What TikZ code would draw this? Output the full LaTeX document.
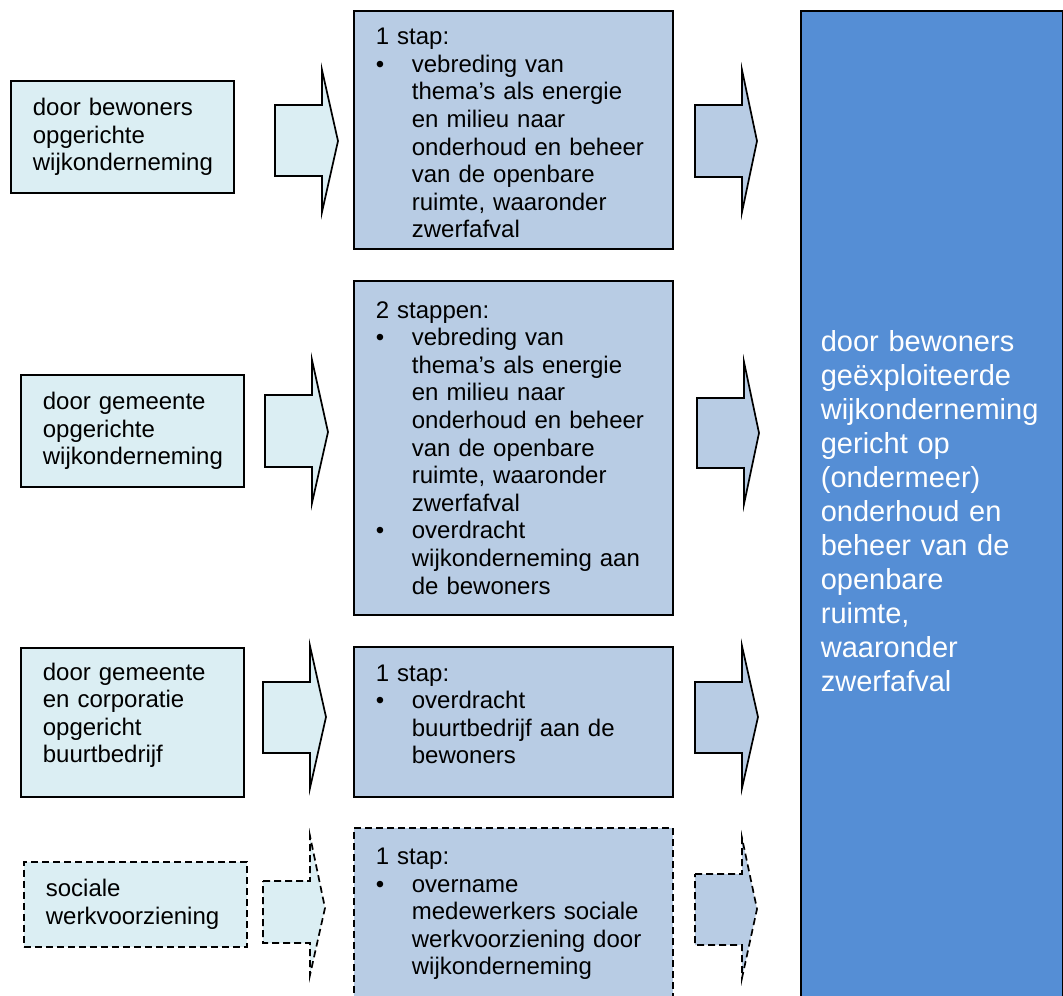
\documentclass[tikz,border=0pt]{standalone}
\usepackage{fontspec}
\setmainfont{Liberation Sans}
\usepackage{tikz}

\definecolor{lichtblauw}{HTML}{DBEEF3}
\definecolor{grijsblauw}{HTML}{B8CCE4}
\definecolor{doelblauw}{HTML}{558ED5}

\newcommand{\bol}{\makebox[36pt][l]{\textbullet}}
\newcommand{\insp}{\hspace*{36pt}}

\tikzset{
  kader/.style={draw=black, line width=1.7pt, anchor=north west, align=left,
    inner xsep=22pt, inner ysep=0pt,
    font=\fontsize{24pt}{27.6pt}\selectfont},
  bron/.style={kader, fill=lichtblauw, text width=179pt},
  stapbox/.style={kader, fill=grijsblauw, text width=275pt},
  pijl/.style={draw=black, line width=1.7pt, line join=miter},
  streep/.style={dash pattern=on 7pt off 4pt}
}

\begin{document}
\begin{tikzpicture}[x=1pt, y=-1pt]
    \useasboundingbox (0,0) rectangle (1063,996);

    % beginsituatie
    \node[bron, minimum height=112pt] (bron1) at (10,80) {door bewoners\\opgerichte\\wijkonderneming};
    \node[bron, minimum height=112pt] (bron2) at (20,374) {door gemeente\\opgerichte\\wijkonderneming};
    \node[bron, minimum height=149pt, text depth=102pt] (bron3) at (20,647) {door gemeente\\en corporatie\\opgericht\\buurtbedrijf};
    \node[bron, streep, minimum height=85pt] (bron4) at (23,861) {sociale\\werkvoorziening};

    % stappen
    \node[stapbox, minimum height=238pt, text height=23pt] (stap1) at (353,10) {1 stap:\\
      \bol vebreding van\\ \insp thema's als energie\\ \insp en milieu naar\\ \insp onderhoud en beheer\\
      \insp van de openbare\\ \insp ruimte, waaronder\\ \insp zwerfafval};
    \node[stapbox, minimum height=334pt] (stap2) at (353,280) {2 stappen:\\
      \bol vebreding van\\ \insp thema's als energie\\ \insp en milieu naar\\ \insp onderhoud en beheer\\
      \insp van de openbare\\ \insp ruimte, waaronder\\ \insp zwerfafval\\
      \bol overdracht\\ \insp wijkonderneming aan\\ \insp de bewoners};
    \node[stapbox, minimum height=150pt, text depth=98pt] (stap3) at (353,646) {1 stap:\\
      \bol overdracht\\ \insp buurtbedrijf aan de\\ \insp bewoners};
    \node[stapbox, streep, minimum height=172pt] (stap4) at (353,827) {1 stap:\\
      \bol overname\\ \insp medewerkers sociale\\ \insp werkvoorziening door\\ \insp wijkonderneming};

    % eindsituatie
    \node[kader, fill=doelblauw, text=white, text width=222pt, inner xsep=20pt,
      minimum height=1000pt, font=\fontsize{29pt}{34pt}\selectfont] (doel) at (800,10)
      {door bewoners\\geëxploiteerde\\wijkonderneming\\gericht op\\(ondermeer)\\onderhoud en\\beheer van de\\openbare\\ruimte,\\waaronder\\zwerfafval};

    % blokpijlen
    \foreach \xa/\xb/\xc/\ya/\yb/\yc/\yd/\ym/\kl in {
        275/322/338/105/176/70/212/141/lichtblauw,
        265/312/328/395/467/360/503/432/lichtblauw,
        263/310/326/682/753/646/788/717/lichtblauw,
        695/742/757/105/177/70/212/141/grijsblauw,
        697/744/759/398/468/362/504/433/grijsblauw,
        695/742/758/682/753/646/788/717/grijsblauw}
      \draw[pijl, fill=\kl] (\xa,\ya) -- (\xb,\ya) -- (\xb,\yc) -- (\xc,\ym) -- (\xb,\yd) -- (\xb,\yb) -- (\xa,\yb) -- cycle;
    \draw[pijl, streep, fill=lichtblauw] (263,881) -- (310,881) -- (310,836) -- (325,908) -- (310,975) -- (310,943) -- (263,943) -- cycle;
    \draw[pijl, streep, fill=grijsblauw] (695,874) -- (742,874) -- (742,838) -- (757,909) -- (742,978) -- (742,945) -- (695,945) -- cycle;
\end{tikzpicture}
\end{document}
